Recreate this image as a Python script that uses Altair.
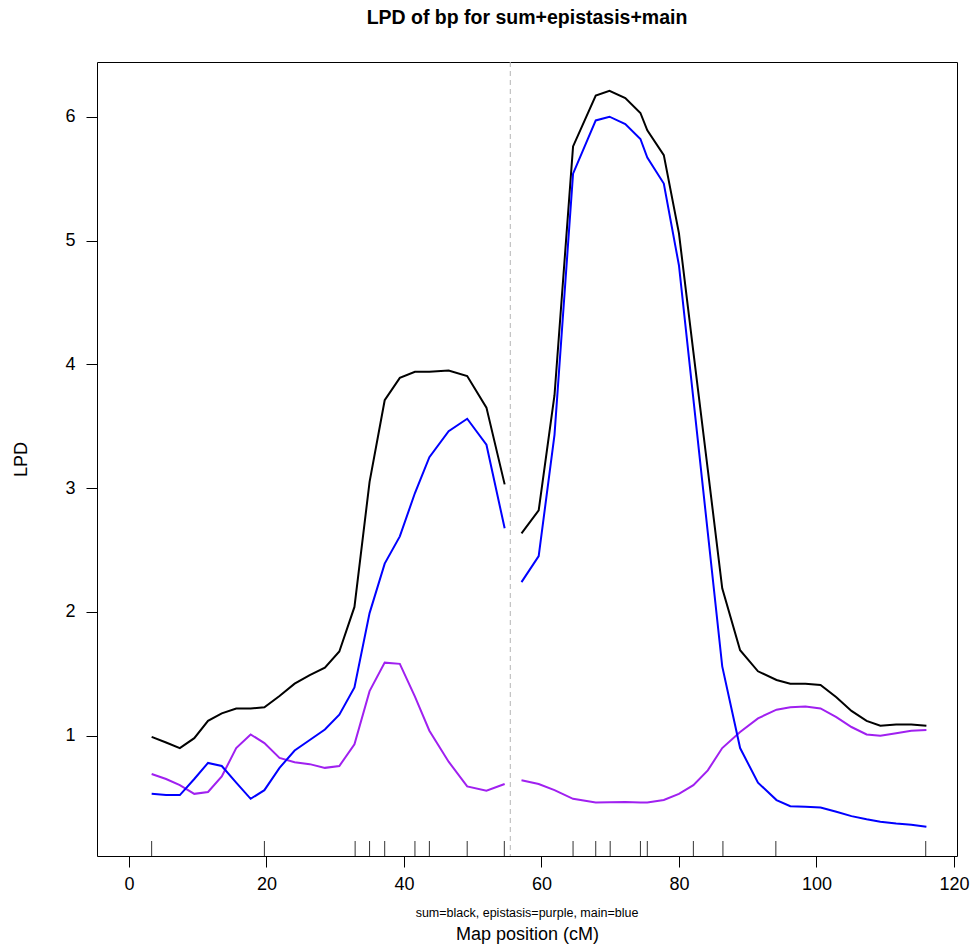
import altair as alt
import pandas as pd

# ---- data ----
chr1_pos = [3.3, 5.4, 7.4, 9.5, 11.5, 13.5, 15.6, 17.7, 19.7, 21.9, 24.1, 26.3,
            28.5, 30.6, 32.8, 35.0, 37.2, 39.4, 41.6, 43.7, 46.5, 49.2, 52.0, 54.65]
chr1_sum = [0.99, 0.945, 0.90, 0.98, 1.12, 1.18, 1.22, 1.22, 1.23, 1.32, 1.42, 1.49,
            1.55, 1.68, 2.04, 3.05, 3.71, 3.89, 3.94, 3.94, 3.95, 3.905, 3.65, 3.03]
chr1_epi = [0.69, 0.65, 0.60, 0.53, 0.545, 0.67, 0.90, 1.01, 0.94, 0.82, 0.785, 0.77,
            0.74, 0.755, 0.93, 1.36, 1.59, 1.58, 1.315, 1.04, 0.79, 0.59, 0.555, 0.61]
chr1_main = [0.53, 0.52, 0.52, 0.65, 0.78, 0.755, 0.62, 0.49, 0.56, 0.74, 0.88, 0.965,
             1.05, 1.17, 1.39, 1.99, 2.39, 2.61, 2.96, 3.25, 3.46, 3.56, 3.35, 2.675]

chr2_pos = [57.1, 59.6, 61.9, 64.6, 67.9, 69.9, 72.2, 74.4, 75.4, 77.8, 80.0, 82.1, 84.2,
            86.3, 88.9, 91.5, 94.2, 96.2, 98.4, 100.6, 102.9, 105.1, 107.3, 109.3, 111.6,
            113.8, 116.0]
chr2_sum = [2.635, 2.82, 3.75, 5.76, 6.17, 6.21, 6.15, 6.03, 5.89, 5.69, 5.06, 4.10, 3.15,
            2.19, 1.69, 1.52, 1.45, 1.42, 1.42, 1.41, 1.31, 1.20, 1.12, 1.08, 1.09, 1.09, 1.08]
chr2_epi = [0.64, 0.61, 0.56, 0.49, 0.46, 0.463, 0.465, 0.46, 0.46, 0.48, 0.53, 0.60, 0.72,
            0.90, 1.03, 1.14, 1.21, 1.23, 1.235, 1.22, 1.15, 1.07, 1.01, 1.0, 1.02, 1.04, 1.045]
chr2_main = [2.24, 2.45, 3.43, 5.54, 5.97, 6.00, 5.94, 5.82, 5.67, 5.46, 4.80, 3.72, 2.64,
             1.56, 0.90, 0.62, 0.48, 0.43, 0.425, 0.42, 0.385, 0.35, 0.325, 0.305, 0.29,
             0.28, 0.265]

markers = [3.3, 19.7, 32.9, 35.0, 37.2, 41.6, 43.7, 49.2, 54.6,
           64.6, 67.9, 70.0, 74.4, 75.4, 82.1, 86.4, 94.1, 115.9]
chr_boundary = [55.47]

series_names = ["sum", "epistasis", "main"]
series_colors = ["#000000", "#A020F0", "#0000FF"]
x_ticks = [0, 20, 40, 60, 80, 100, 120]
y_ticks = [1, 2, 3, 4, 5, 6]

title_text = "LPD of bp for sum+epistasis+main"
x_title = "Map position (cM)"
y_title = "LPD"
sub_text = "sum=black, epistasis=purple, main=blue"

# ---- build table ----
rows = []
for chrom, pos, vals in [("1", chr1_pos, [chr1_sum, chr1_epi, chr1_main]),
                         ("2", chr2_pos, [chr2_sum, chr2_epi, chr2_main])]:
    for name, v in zip(series_names, vals):
        for i, (p, y) in enumerate(zip(pos, v)):
            rows.append({"pos": p, "lpd": y, "series": name, "chr": chrom, "order": i})
df = pd.DataFrame(rows)
df_mark = pd.DataFrame({"pos": markers})
df_bound = pd.DataFrame({"pos": chr_boundary})
df_sub = pd.DataFrame({"t": [sub_text]})

W, H = 860, 794
FONT = "Liberation Sans"

xscale = alt.Scale(domain=[-4.65, 120.45], nice=False, zero=False)
yscale = alt.Scale(domain=[0.028, 6.442], nice=False, zero=False)

xaxis = alt.Axis(values=x_ticks, title=x_title, grid=False, domain=False, tickSize=11,
                 tickColor="black", labelFontSize=18, labelFont=FONT, labelColor="black",
                 labelPadding=8, titleFontSize=18, titleFont=FONT, titleFontWeight="normal",
                 titleColor="black", titleY=83.6, titleBaseline="alphabetic", format="d")
yaxis = alt.Axis(values=y_ticks, title=y_title, grid=False, domain=False, tickSize=11,
                 tickColor="black", labelFontSize=18, labelFont=FONT, labelColor="black",
                 labelPadding=11, labelAngle=0, titleFontSize=18, titleFont=FONT,
                 titleFontWeight="normal", titleColor="black", titleAngle=270,
                 titleX=-76, titleY=H / 2, titleBaseline="middle", titleAlign="center",
                 format="d")

lines = alt.Chart(df).mark_line(strokeWidth=2, clip=True).encode(
    x=alt.X("pos:Q", scale=xscale, axis=xaxis),
    y=alt.Y("lpd:Q", scale=yscale, axis=yaxis),
    color=alt.Color("series:N", scale=alt.Scale(domain=series_names, range=series_colors),
                    legend=None),
    detail="chr:N",
    order="order:Q",
)

rug = alt.Chart(df_mark).mark_rule(color="#333333", strokeWidth=1).encode(
    x=alt.X("pos:Q", scale=xscale),
    y=alt.value(H),
    y2=alt.value(H - 15),
)

bound = alt.Chart(df_bound).mark_rule(color="#B4B4B4", strokeWidth=1,
                                      strokeDash=[5, 4]).encode(
    x=alt.X("pos:Q", scale=xscale),
    y=alt.value(0),
    y2=alt.value(H),
)

sub = alt.Chart(df_sub).mark_text(fontSize=12.5, font=FONT, color="black",
                                  align="center", baseline="alphabetic").encode(
    x=alt.value(W / 2),
    y=alt.value(855),
    text="t:N",
)

chart = alt.layer(bound, rug, lines, sub).properties(
    width=W, height=H,
    background="white",
    title=alt.TitleParams(title_text, fontSize=19.5, font=FONT, fontWeight="bold",
                          color="black", anchor="middle", frame="group", offset=33),
    autosize=alt.AutoSizeParams(type="none"),
    padding={"left": 97, "top": 62, "right": 16, "bottom": 91},
).configure_view(stroke="#000000", strokeWidth=1, strokeOpacity=1)

chart.save("out.html", embed_options={"renderer": "svg", "actions": False})
